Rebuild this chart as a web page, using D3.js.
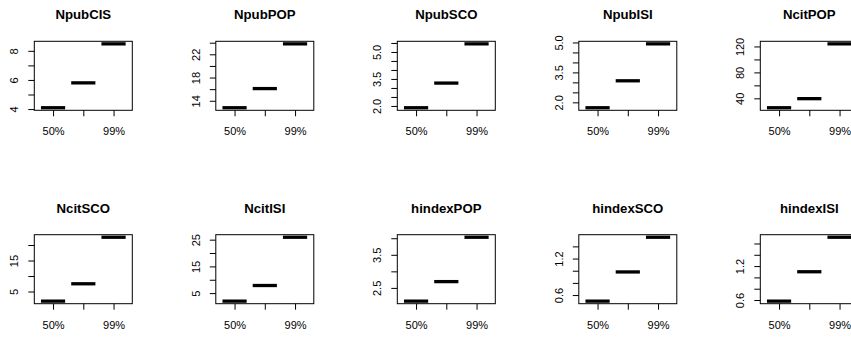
<!DOCTYPE html>
<html>
<head>
<meta charset="utf-8">
<script src="https://cdn.jsdelivr.net/npm/d3@7"></script>
<style>
  html, body { margin: 0; padding: 0; background: #fff; overflow: hidden; }
  svg { display: block; font-family: "Liberation Sans", Arial, Helvetica, sans-serif; }
</style>
</head>
<body>
<svg id="chart" width="851" height="338"></svg>
<script>
// Indicator panels, drawn left to right, top to bottom
const metrics = ["NpubCIS", "NpubPOP", "NpubSCO", "NpubISI", "NcitPOP",
                 "NcitSCO", "NcitISI", "hindexPOP", "hindexSCO", "hindexISI"];

// Quantile groups on the x axis
const quantiles = ["50%", "90%", "99%"];

// Value of each indicator at each quantile
const NpubCIS   = [4.09, 5.80, 8.48];
const NpubPOP   = [12.8, 16.1, 23.8];
const NpubSCO   = [1.90, 3.27, 5.45];
const NpubISI   = [1.73, 3.08, 4.93];
const NcitPOP   = [25.5, 39.5, 124.0];
const NcitSCO   = [1.9, 7.5, 22.5];
const NcitISI   = [2.0, 7.85, 25.9];
const hindexPOP = [2.10, 2.69, 4.03];
const hindexSCO = [0.50, 0.98, 1.55];
const hindexISI = [0.58, 1.10, 1.71];

const seriesValues = [NpubCIS, NpubPOP, NpubSCO, NpubISI, NcitPOP,
                      NcitSCO, NcitISI, hindexPOP, hindexSCO, hindexISI];

// y-axis tick positions and the labels printed at them ("" = tick only)
const yTicks = [
  [4, 5, 6, 7, 8],
  [14, 16, 18, 20, 22, 24],
  [2.0, 2.5, 3.0, 3.5, 4.0, 4.5, 5.0, 5.5],
  [2.0, 2.5, 3.0, 3.5, 4.0, 4.5, 5.0],
  [40, 60, 80, 100, 120],
  [5, 10, 15, 20],
  [5, 10, 15, 20, 25],
  [2.5, 3.0, 3.5, 4.0],
  [0.6, 0.8, 1.0, 1.2, 1.4],
  [0.6, 0.8, 1.0, 1.2, 1.4, 1.6]
];
const yTickLabels = [
  ["4", "", "6", "", "8"],
  ["14", "", "18", "", "22", ""],
  ["2.0", "", "", "3.5", "", "", "5.0", ""],
  ["2.0", "", "", "3.5", "", "", "5.0"],
  ["40", "", "80", "", "120"],
  ["5", "", "15", ""],
  ["5", "", "15", "", "25"],
  ["2.5", "", "3.5", ""],
  ["0.6", "", "", "1.2", ""],
  ["0.6", "", "", "1.2", "", ""]
];

// Panel grid geometry
const nCols = 5;
const colStep = 181.5, rowStep = 193.4;
const plotLeft0 = 34.3, plotTop0 = 41.3;
const plotW = 98, plotH = 69;
const tickLen = 6;
const fontFamily = '"Liberation Sans", Arial, Helvetica, sans-serif';

const svg = d3.select("#chart");

// width of an "m", used as the minimum gap between x labels
const probe = svg.append("text").attr("font-size", 11).text("m");
const mWidth = probe.node().getComputedTextLength();
probe.remove();

metrics.forEach((name, i) => {
  const col = i % nCols, row = Math.floor(i / nCols);
  const left = plotLeft0 + col * colStep;
  const top = plotTop0 + row * rowStep;
  const vals = seriesValues[i];

  const [lo, hi] = d3.extent(vals);
  const pad = (hi - lo) * 0.04;
  const y = d3.scaleLinear().domain([lo - pad, hi + pad]).range([top + plotH, top]);
  const x = d3.scalePoint().domain(quantiles).range([left, left + plotW]).padding(0.62);
  const halfBox = 0.4 * x.step();

  const g = svg.append("g").attr("class", "panel");

  // flat boxes: thin outline plus heavy median bar
  g.selectAll("rect.box").data(vals).join("rect")
    .attr("class", "box")
    .attr("x", (d, j) => x(quantiles[j]) - halfBox)
    .attr("y", d => y(d))
    .attr("width", 2 * halfBox)
    .attr("height", 0)
    .attr("fill", "none")
    .attr("stroke", "#000")
    .attr("stroke-width", 1);

  g.selectAll("line.median").data(vals).join("line")
    .attr("class", "median")
    .attr("x1", (d, j) => x(quantiles[j]) - halfBox)
    .attr("x2", (d, j) => x(quantiles[j]) + halfBox)
    .attr("y1", d => y(d))
    .attr("y2", d => y(d))
    .attr("stroke", "#000")
    .attr("stroke-width", 3.3)
    .attr("stroke-linecap", "butt");

  // plot frame
  g.append("rect")
    .attr("x", left).attr("y", top)
    .attr("width", plotW).attr("height", plotH)
    .attr("fill", "none").attr("stroke", "#000").attr("stroke-width", 1);

  // y axis with labels running along the axis
  const yAxis = d3.axisLeft(y)
    .tickValues(yTicks[i])
    .tickFormat((d, k) => yTickLabels[i][k])
    .tickSize(tickLen)
    .tickSizeOuter(0);
  const gy = g.append("g")
    .attr("transform", `translate(${left},0)`)
    .call(yAxis)
    .attr("font-size", 11)
    .attr("font-family", fontFamily);
  gy.select(".domain").remove();
  gy.selectAll(".tick line").attr("stroke", "#000");
  gy.selectAll(".tick text")
    .attr("x", 0).attr("y", -16).attr("dy", 0)
    .attr("transform", "rotate(-90)")
    .attr("text-anchor", "middle")
    .attr("fill", "#000");

  // x axis
  const xAxis = d3.axisBottom(x).tickSize(tickLen).tickSizeOuter(0);
  const gx = g.append("g")
    .attr("transform", `translate(0,${top + plotH})`)
    .call(xAxis)
    .attr("font-size", 11)
    .attr("font-family", fontFamily);
  gx.select(".domain").remove();
  gx.selectAll(".tick line").attr("stroke", "#000");
  gx.selectAll(".tick text").attr("y", 25).attr("dy", 0).attr("fill", "#000");

  // drop x labels that would crowd the previously drawn one
  let lastRight = -Infinity;
  gx.selectAll(".tick text").each(function (d) {
    const w = this.getComputedTextLength();
    const l = x(d) - w / 2;
    if (l - lastRight < mWidth) {
      d3.select(this).remove();
    } else {
      lastRight = x(d) + w / 2;
    }
  });

  // panel title
  g.append("text")
    .attr("x", left + plotW / 2)
    .attr("y", top - 22)
    .attr("text-anchor", "middle")
    .attr("font-size", 13.2)
    .attr("font-weight", "bold")
    .attr("fill", "#000")
    .text(name);
});
</script>
</body>
</html>
